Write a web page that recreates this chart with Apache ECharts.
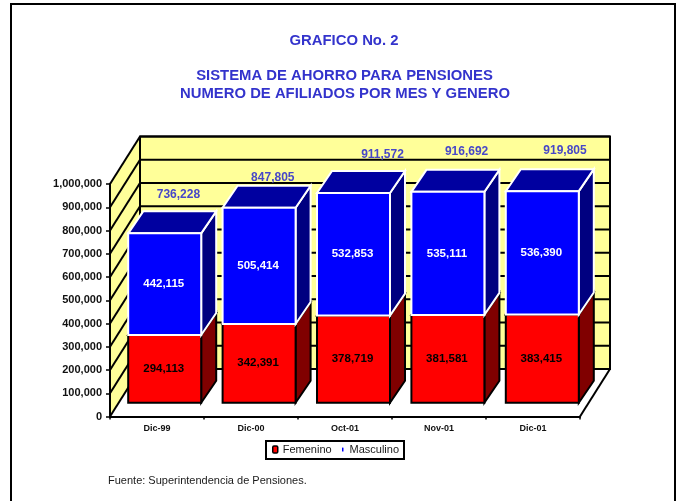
<!DOCTYPE html>
<html><head><meta charset="utf-8">
<style>html,body{margin:0;padding:0;background:#fff}#c{width:680px;height:501px}</style>
<script src="https://cdn.jsdelivr.net/npm/echarts@6/dist/echarts.min.js"></script>
</head><body><div id="c"></div>
<script>
const categories = ['Dic-99','Dic-00','Oct-01','Nov-01','Dic-01'];
const femenino = [294113,342391,378719,381581,383415];
const masculino = [442115,505414,532853,535111,536390];
const totals = [736228,847805,911572,916692,919805];
const totalLabelShift = [[13.7,-38.6],[13.7,-30],[29,-38],[18.7,-40],[22.7,-40]];
const gridTicks = [0,100000,200000,300000,400000,500000,600000,700000,800000,900000,1000000];

const FONT = '"Liberation Sans", Arial, sans-serif';
const WALL = {dx:30, dy:-47.5};
const BAR = {dx:15, dy:-22, ratio:73/94.4};

function wallItem(params, api){
  const v = api.value(0);
  const half = api.size([1,0])[0]/2;
  const first = api.coord([0, v]);
  const last = api.coord([categories.length-1, v]);
  const a = [first[0]-half, first[1]];
  const end = [last[0]+half, last[1]];
  const b = [a[0]+WALL.dx, a[1]+WALL.dy];
  const c = [end[0]+WALL.dx, end[1]+WALL.dy];
  const ln = {stroke:'#000', lineWidth:2};
  const kids = [];
  if (params.dataIndex === 0){
    const topY = api.coord([0, 1000000])[1];
    const wh = a[1]-topY;
    kids.push({type:'polygon', shape:{points:[[a[0],topY],[b[0],topY+WALL.dy],b,a]}, style:{fill:'#FFFF99'}});
    kids.push({type:'rect', shape:{x:b[0],y:b[1]-wh,width:c[0]-b[0],height:wh}, style:{fill:'#FFFF99',stroke:'#000',lineWidth:2}});
    kids.push({type:'line', shape:{x1:end[0],y1:end[1],x2:c[0],y2:c[1]}, style:ln});
    kids.push({type:'line', shape:{x1:b[0],y1:b[1],x2:b[0],y2:b[1]-wh}, style:ln});
  }
  kids.push({type:'line', shape:{x1:a[0],y1:a[1],x2:b[0],y2:b[1]}, style:ln});
  kids.push({type:'line', shape:{x1:b[0],y1:b[1],x2:c[0],y2:c[1]}, style:ln});
  return {type:'group', children:kids};
}

function boxItem(colors){
  return function(params, api){
    const i = api.value(0);
    const lo = api.coord([i, api.value(1)]);
    const hi = api.coord([i, api.value(2)]);
    const w = api.size([1,0])[0]*BAR.ratio;
    const x0 = lo[0]-w/2, x1 = lo[0]+w/2;
    const s = {stroke:colors.edge, lineWidth:2, lineJoin:'miter'};
    const kids = [
      {type:'polygon', shape:{points:[[x1,lo[1]],[x1+BAR.dx,lo[1]+BAR.dy],[x1+BAR.dx,hi[1]+BAR.dy],[x1,hi[1]]]},
       style:Object.assign({fill:colors.side},s)},
      {type:'polygon', shape:{points:[[x0,hi[1]],[x1,hi[1]],[x1+BAR.dx,hi[1]+BAR.dy],[x0+BAR.dx,hi[1]+BAR.dy]]},
       style:Object.assign({fill:colors.top},s)},
      {type:'rect', shape:{x:x0,y:hi[1],width:w,height:lo[1]-hi[1]},
       style:Object.assign({fill:colors.front},s)},
      {type:'text', style:{x:lo[0]-1,y:(lo[1]+hi[1])/2,text:fmt(api.value(2)-api.value(1)),
        fill:colors.text,font:'bold 11.5px '+FONT,align:'center',verticalAlign:'middle'}}
    ];
    return {type:'group', children:kids};
  };
}
const fmt = v => Math.round(v).toLocaleString('en-US');

function totalItem(params, api){
  const i = api.value(0);
  const p = api.coord([i, api.value(1)]);
  const sh = totalLabelShift[params.dataIndex];
  return {type:'text', style:{x:p[0]+sh[0],y:p[1]+sh[1],text:fmt(api.value(1)),
    fill:'#4747C8',font:'bold 12px '+FONT,align:'center',verticalAlign:'middle'}};
}

const chart = echarts.init(document.getElementById('c'), null, {renderer:'canvas'});
const titleStyle = {color:'#3333CC',fontFamily:FONT,fontWeight:'bold',fontSize:14.85};
chart.setOption({
  animation:false,
  backgroundColor:'#fff',
  title:[
    {text:'GRAFICO No. 2',left:339,top:28,textAlign:'center',textStyle:titleStyle},
    {text:'SISTEMA DE AHORRO PARA PENSIONES',left:339.5,top:63,textAlign:'center',textStyle:titleStyle},
    {text:'NUMERO DE AFILIADOS POR MES Y GENERO',left:340,top:81,textAlign:'center',textStyle:titleStyle},
    {text:'Fuente: Superintendencia de Pensiones.',left:103,top:470.5,textStyle:{color:'#1a1a1a',fontFamily:FONT,fontWeight:'normal',fontSize:11}}
  ],
  grid:[
    {left:110,top:184,width:470,height:232.5},
    {left:117.5,top:172.7,width:472,height:230}
  ],
  xAxis:[
    {type:'category',gridIndex:0,data:categories,axisTick:{show:true,length:3,lineStyle:{color:'#000',width:1.5}},
     axisLine:{lineStyle:{color:'#000',width:2}},
     axisLabel:{color:'#111',fontFamily:FONT,fontWeight:'bold',fontSize:9,margin:8,interval:0},z:5},
    {type:'category',gridIndex:1,data:categories,show:false}
  ],
  yAxis:[
    {type:'value',gridIndex:0,min:0,max:1000000,interval:100000,splitLine:{show:false},
     axisLine:{show:true,lineStyle:{color:'#000',width:2}},axisTick:{show:true,length:4,lineStyle:{color:'#000',width:1.5}},
     axisLabel:{color:'#111',fontFamily:FONT,fontWeight:'bold',fontSize:11,margin:8,formatter:v=>fmt(v)},z:5},
    {type:'value',gridIndex:1,min:0,max:1000000,show:false}
  ],
  legend:[
    {data:[{name:'Femenino',itemStyle:{color:'#FF0000',borderColor:'#000',borderWidth:1.5}}],
     left:272,top:444,itemWidth:5,itemHeight:7,itemGap:0,selectedMode:false,padding:0,
     textStyle:{color:'#1a1a1a',fontFamily:FONT,fontSize:11,padding:[0,0,0,0]}},
    {data:[{name:'Masculino',itemStyle:{color:'#0000FF',borderWidth:0}}],
     left:342,top:444,itemWidth:1.5,itemHeight:4,itemGap:0,selectedMode:false,padding:0,
     textStyle:{color:'#1a1a1a',fontFamily:FONT,fontSize:11,padding:[0,0,0,1]}}
  ],
  graphic:[
    {type:'polyline',shape:{points:[[11,501],[11,4],[675,4],[675,501]]},style:{stroke:'#000',lineWidth:2,fill:null},z:0,silent:true},
    {type:'rect',shape:{x:266,y:441,width:138,height:18},style:{stroke:'#000',lineWidth:2,fill:'#fff'},z:1,silent:true}
  ],
  series:[
    {type:'custom',name:'walls',xAxisIndex:0,yAxisIndex:0,z:1,silent:true,clip:false,
     data:gridTicks.map(v=>[v]),encode:{y:0},renderItem:wallItem},
    {type:'custom',name:'Femenino',xAxisIndex:1,yAxisIndex:1,z:3,silent:true,clip:false,itemStyle:{color:'#FF0000'},
     data:femenino.map((v,i)=>[i,0,v]),encode:{x:0,y:[1,2]},
     renderItem:boxItem({front:'#FF0000',top:'#FF0000',side:'#800000',edge:'#000',text:'#000'})},
    {type:'custom',name:'Masculino',xAxisIndex:1,yAxisIndex:1,z:4,silent:true,clip:false,itemStyle:{color:'#0000FF'},
     data:masculino.map((v,i)=>[i,femenino[i],femenino[i]+v]),encode:{x:0,y:[1,2]},
     renderItem:boxItem({front:'#0000FF',top:'#0000A0',side:'#000080',edge:'#fff',text:'#fff'})},
    {type:'custom',name:'Total',xAxisIndex:1,yAxisIndex:1,z:5,silent:true,clip:false,
     data:totals.map((v,i)=>[i,v]),encode:{x:0,y:1},renderItem:totalItem}
  ]
});
</script></body></html>
